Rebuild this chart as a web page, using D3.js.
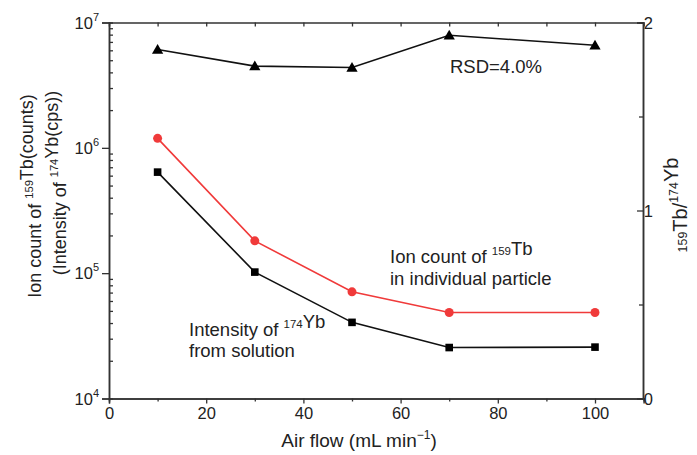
<!DOCTYPE html>
<html>
<head>
<meta charset="utf-8">
<script src="https://cdn.jsdelivr.net/npm/d3@7"></script>
<style>
  body { margin: 0; background: #fff; }
  svg text { font-family: "Liberation Sans", Arial, sans-serif; fill: #222; }
</style>
</head>
<body>
<div id="chart"></div>
<script>
const airFlow = [10, 30, 50, 70, 100];
const tbIonCount = [1.19e6, 1.81e5, 7.1e4, 4.85e4, 4.85e4];
const ybIntensity = [6.4e5, 1.02e5, 4.05e4, 2.55e4, 2.57e4];
const tbYbRatio = [1.856, 1.768, 1.761, 1.932, 1.879];
const xTicks = [0, 20, 40, 60, 80, 100];
const leftTicks = [1e4, 1e5, 1e6, 1e7];
const rightTicks = [0, 1, 2];

const W = 697, H = 455;
const m = { left: 109, right: 643, top: 22.5, bottom: 398.5 };

const svg = d3.select('#chart').append('svg')
  .attr('width', W)
  .attr('height', H);

const x = d3.scaleLinear().domain([0, 110]).range([m.left, m.left + 110 * 4.86]);
const yL = d3.scaleLog().domain([1e4, 1e7]).range([m.bottom, m.top]);
const yR = d3.scaleLinear().domain([0, 2]).range([m.bottom, m.top]);

const axisColor = '#333';

// bottom axis, ticks outward
const gx = svg.append('g').attr('transform', `translate(0,${m.bottom})`);
gx.call(d3.axisBottom(x).tickValues(xTicks).tickSize(5).tickPadding(4).tickFormat(d3.format('d')));
gx.append('g').call(d3.axisBottom(x).tickValues(d3.range(10, 110, 20)).tickSize(3).tickFormat(''));
gx.selectAll('.tick text').attr('font-size', 16.5).attr('fill', '#222');

// top axis (inward ticks)
const gt = svg.append('g').attr('transform', `translate(0,${m.top})`);
gt.call(d3.axisBottom(x).tickValues(d3.range(10, 110, 10)).tickSize(4).tickFormat(''));

// left log axis
const gl = svg.append('g').attr('transform', `translate(${m.left},0)`);
gl.call(d3.axisLeft(yL).tickValues(leftTicks).tickSize(7).tickFormat(''));
const minors = [];
for (let e = 4; e < 7; e++) for (let k = 2; k < 10; k++) minors.push(k * Math.pow(10, e));
gl.append('g').call(d3.axisRight(yL).tickValues(minors).tickSize(4).tickFormat(''));
leftTicks.forEach(v => {
  const t = gl.append('text')
    .attr('x', -10)
    .attr('y', yL(v) + 6)
    .attr('text-anchor', 'end')
    .attr('font-size', 16.5);
  t.append('tspan').text('10');
  t.append('tspan').attr('dy', -8).attr('font-size', 11).text(Math.log10(v));
});

// right axis (inward ticks)
const gr = svg.append('g').attr('transform', `translate(${m.right},0)`);
gr.call(d3.axisLeft(yR).tickValues(rightTicks).tickSize(6).tickFormat(''));
gr.append('g').call(d3.axisLeft(yR).tickValues([0.5, 1.5]).tickSize(4).tickFormat(''));
rightTicks.forEach(v => {
  gr.append('text')
    .attr('x', 10)
    .attr('y', yR(v) + 6)
    .attr('font-size', 16.5)
    .text(v);
});

svg.selectAll('.domain').attr('stroke', axisColor).attr('stroke-width', 1.5);
svg.selectAll('.tick line').attr('stroke', axisColor).attr('stroke-width', 1.3);

// series
const line = (yScale, vals) => d3.line()
  .x((d, i) => x(airFlow[i]))
  .y(d => yScale(d))(vals);

svg.append('path').attr('d', line(yR, tbYbRatio))
  .attr('fill', 'none').attr('stroke', '#111').attr('stroke-width', 1.6);
svg.append('path').attr('d', line(yL, tbIonCount))
  .attr('fill', 'none').attr('stroke', '#f03a3a').attr('stroke-width', 1.6);
svg.append('path').attr('d', line(yL, ybIntensity))
  .attr('fill', 'none').attr('stroke', '#111').attr('stroke-width', 1.6);

const tri = d3.symbol().type(d3.symbolTriangle).size(55);
svg.append('g').selectAll('path').data(tbYbRatio).join('path')
  .attr('d', tri)
  .attr('transform', (d, i) => `translate(${x(airFlow[i])},${yR(d) + 1})`)
  .attr('fill', '#000');

svg.append('g').selectAll('circle').data(tbIonCount).join('circle')
  .attr('cx', (d, i) => x(airFlow[i]))
  .attr('cy', d => yL(d))
  .attr('r', 4.5)
  .attr('fill', '#f03a3a');

svg.append('g').selectAll('rect').data(ybIntensity).join('rect')
  .attr('x', (d, i) => x(airFlow[i]) - 3.8)
  .attr('y', d => yL(d) - 3.8)
  .attr('width', 7.6)
  .attr('height', 7.6)
  .attr('fill', '#000');

// text with superscripts
const supText = (g, xx, yy, parts, size, anchor) => {
  const t = g.append('text').attr('x', xx).attr('y', yy).attr('font-size', size)
    .attr('text-anchor', anchor || 'start');
  parts.forEach(p => {
    if (p.sup) {
      t.append('tspan').attr('dy', -size * 0.45).attr('font-size', size * 0.62).text(p.sup);
      t.append('tspan').attr('dy', size * 0.45).text('');
    } else {
      t.append('tspan').text(p.t);
    }
  });
  return t;
};

svg.append('text').attr('x', 450).attr('y', 73).attr('font-size', 18.5).text('RSD=4.0%');

supText(svg, 390, 263, [{ t: 'Ion count of ' }, { sup: '159' }, { t: 'Tb' }], 18.5);
svg.append('text').attr('x', 390).attr('y', 285).attr('font-size', 18.5).text('in individual particle');

supText(svg, 189, 336, [{ t: 'Intensity of ' }, { sup: '174' }, { t: 'Yb' }], 18.5);
svg.append('text').attr('x', 189).attr('y', 357).attr('font-size', 18.5).text('from solution');

// x axis title
const xt = svg.append('text').attr('x', 359).attr('y', 447).attr('text-anchor', 'middle').attr('font-size', 19);
xt.append('tspan').text('Air flow (mL min');
xt.append('tspan').attr('dy', -8).attr('font-size', 12).text('−1');
xt.append('tspan').attr('dy', 8).text(')');

// left title (two lines)
const l1 = svg.append('g').attr('transform', 'translate(41,196) rotate(-90)');
supText(l1, 0, 0, [{ t: 'Ion count of ' }, { sup: '159' }, { t: 'Tb(counts)' }], 18, 'middle');
const l2 = svg.append('g').attr('transform', 'translate(66,183) rotate(-90)');
supText(l2, 0, 0, [{ t: '(Intensity of ' }, { sup: '174' }, { t: 'Yb(cps))' }], 18, 'middle');

// right title
const r1 = svg.append('g').attr('transform', 'translate(696,205) rotate(-90)');
supText(r1, 0, 0, [{ sup: '159' }, { t: 'Tb/' }, { sup: '174' }, { t: 'Yb' }], 20, 'middle');
</script>
</body>
</html>
